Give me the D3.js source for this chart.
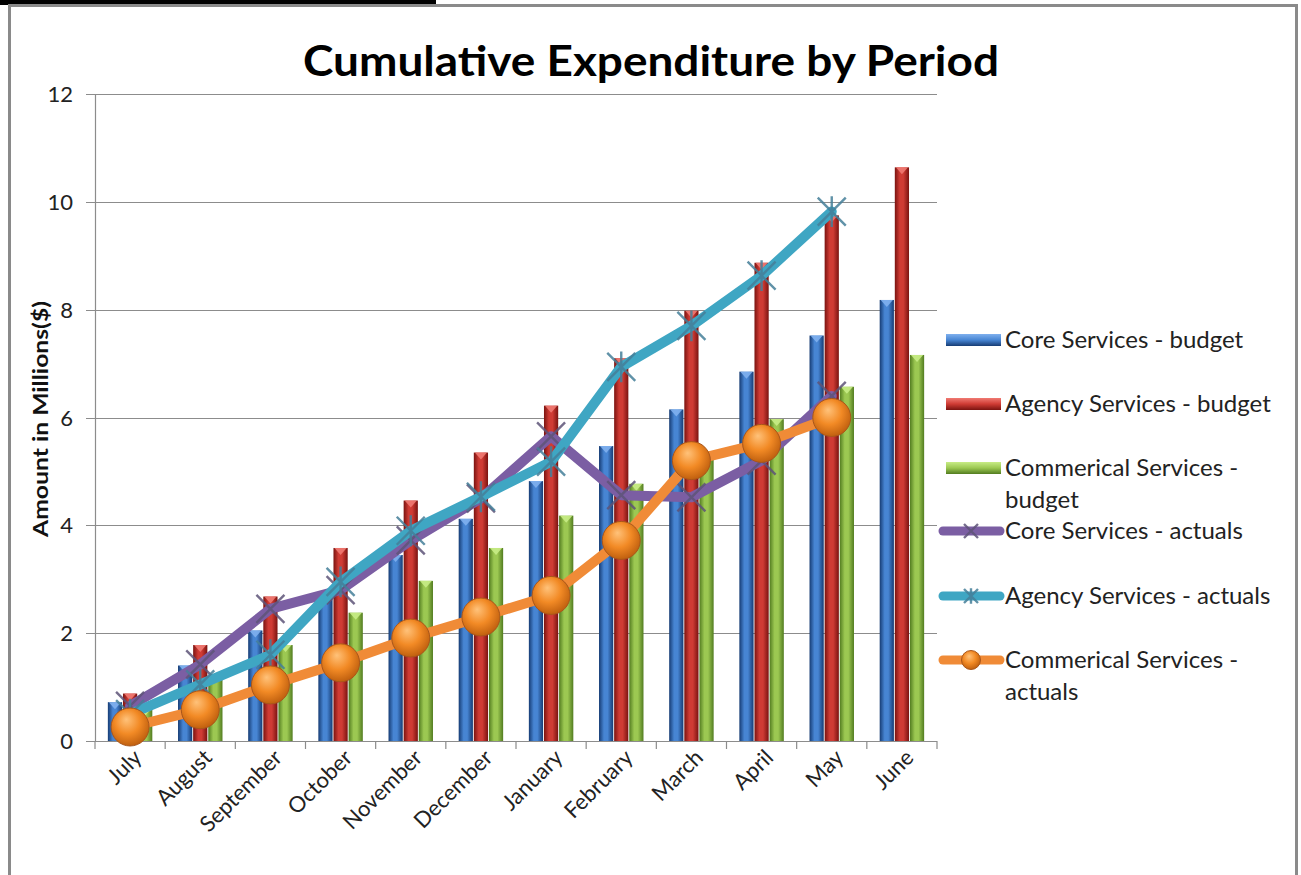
<!DOCTYPE html>
<html>
<head>
<meta charset="utf-8">
<script src="https://cdn.jsdelivr.net/npm/d3@7"></script>
<style>
  body { margin: 0; background: #fff; }
  text { font-family: Lato, "Open Sans", sans-serif; }
</style>
</head>
<body>
<svg id="chart" width="1301" height="875"></svg>
<script>
// data (millions $)
var months = ["July","August","September","October","November","December",
              "January","February","March","April","May","June"];

var coreBudget   = [0.72,1.40,2.05,2.75,3.45,4.12,4.82,5.47,6.15,6.85,7.52,8.18];
var agencyBudget = [0.88,1.78,2.68,3.58,4.46,5.35,6.22,7.10,7.98,8.87,9.75,10.64];
var commBudget   = [0.60,1.20,1.78,2.38,2.97,3.58,4.18,4.77,5.37,5.97,6.57,7.16];

var coreActual   = [0.65,1.42,2.45,2.80,3.72,4.50,5.65,4.56,4.52,5.20,6.40];
var agencyActual = [0.50,1.05,1.60,2.95,3.90,4.53,5.18,6.94,7.70,8.63,9.82];
var commActual   = [0.26,0.58,1.04,1.45,1.91,2.30,2.70,3.72,5.20,5.52,6.00];

var yTicks = [0,2,4,6,8,10,12];

var barSeries = [
  {name: "Core Services - budget", values: coreBudget, dark: "#163c74", mid: "#4785d3", light: "#7fb0ee"},
  {name: "Agency Services - budget", values: agencyBudget, dark: "#7a1310", mid: "#cf3b34", light: "#f07a72"},
  {name: "Commerical Services - budget", values: commBudget, dark: "#527c20", mid: "#9cc852", light: "#c8ec86"}
];
var lineSeries = [
  {name: "Core Services - actuals", values: coreActual, color: "#7b5ea3", marker: "x"},
  {name: "Agency Services - actuals", values: agencyActual, color: "#3fa6c3", marker: "star"},
  {name: "Commerical Services - actuals", values: commActual, color: "#f08b37", marker: "ball"}
];

var svg = d3.select("#chart");
var defs = svg.append("defs");

// frame
svg.append("rect").attr("x", 0).attr("y", 0).attr("width", 436).attr("height", 5).attr("fill", "#000");
svg.append("rect").attr("x", 9.5).attr("y", 5.5).attr("width", 1287).attr("height", 880)
  .attr("fill", "none").attr("stroke", "#8a8a8a").attr("stroke-width", 3);

var x = d3.scaleBand().domain(months).range([95, 937]);
var y = d3.scaleLinear().domain([0, 12]).range([741, 94]);
var x1 = d3.scaleBand().domain(d3.range(3)).range([0, x.bandwidth()])
  .paddingInner(0.06).paddingOuter(0.85);

// gridlines + y ticks
var grid = svg.append("g");
yTicks.forEach(function(t) {
  grid.append("line").attr("x1", 86).attr("x2", 937)
    .attr("y1", Math.round(y(t)) + 0.5).attr("y2", Math.round(y(t)) + 0.5)
    .attr("stroke", "#8c8c8c").attr("stroke-width", 1.2);
  grid.append("text").attr("x", 73).attr("y", y(t) + 8)
    .attr("text-anchor", "end").attr("font-size", 22).attr("fill", "#222").text(t);
});
grid.append("line").attr("x1", 95.5).attr("x2", 95.5).attr("y1", 94).attr("y2", 741)
  .attr("stroke", "#8c8c8c").attr("stroke-width", 1.2);

// x axis ticks at category boundaries
months.concat(["end"]).forEach(function(m, i) {
  var xx = 95 + i * x.step();
  grid.append("line").attr("x1", xx).attr("x2", xx).attr("y1", 741).attr("y2", 749)
    .attr("stroke", "#8c8c8c").attr("stroke-width", 1.2);
});

// bar gradients
barSeries.forEach(function(s, i) {
  var g = defs.append("linearGradient").attr("id", "bar" + i).attr("x1", 0).attr("x2", 1).attr("y1", 0).attr("y2", 0);
  g.append("stop").attr("offset", "0%").attr("stop-color", s.dark);
  g.append("stop").attr("offset", "35%").attr("stop-color", s.mid);
  g.append("stop").attr("offset", "60%").attr("stop-color", s.mid);
  g.append("stop").attr("offset", "100%").attr("stop-color", s.dark);
});

var bars = svg.append("g");
barSeries.forEach(function(s, i) {
  var gs = bars.append("g");
  gs.selectAll("rect").data(s.values).enter().append("rect")
    .attr("x", function(d, j) { return x(months[j]) + x1(i); })
    .attr("y", function(d) { return y(d); })
    .attr("width", x1.bandwidth())
    .attr("height", function(d) { return y(0) - y(d); })
    .attr("fill", "url(#bar" + i + ")");
  gs.selectAll("path").data(s.values).enter().append("path")
    .attr("d", function(d, j) {
      var x0 = x(months[j]) + x1(i), w = x1.bandwidth(), yy = y(d);
      return "M" + (x0 + 1) + "," + yy + "L" + (x0 + w - 1) + "," + yy + "L" + (x0 + w / 2) + "," + (yy + 7) + "Z";
    })
    .attr("fill", s.light).attr("opacity", 0.9);
});

// orange ball gradient
var rg = defs.append("radialGradient").attr("id", "ball").attr("cx", "45%").attr("cy", "40%").attr("r", "60%")
  .attr("fx", "40%").attr("fy", "30%");
rg.append("stop").attr("offset", "0%").attr("stop-color", "#ffc27a");
rg.append("stop").attr("offset", "55%").attr("stop-color", "#f28a25");
rg.append("stop").attr("offset", "100%").attr("stop-color", "#c0600f");

function drawMarker(g, s, cx, cy, scale) {
  if (s.marker === "x") {
    var r = 14 * scale;
    g.append("path").attr("d", "M" + (cx - r) + "," + (cy - r) + "L" + (cx + r) + "," + (cy + r) +
        "M" + (cx - r) + "," + (cy + r) + "L" + (cx + r) + "," + (cy - r))
      .attr("stroke", "#5e5478").attr("stroke-width", 2.4).attr("opacity", 0.85);
  } else if (s.marker === "star") {
    var r2 = 14 * scale;
    g.append("path").attr("d", "M" + (cx - r2) + "," + (cy - r2) + "L" + (cx + r2) + "," + (cy + r2) +
        "M" + (cx - r2) + "," + (cy + r2) + "L" + (cx + r2) + "," + (cy - r2) +
        "M" + cx + "," + (cy - r2 * 1.1) + "L" + cx + "," + (cy + r2 * 1.1))
      .attr("stroke", "#457f99").attr("stroke-width", 2.4).attr("opacity", 0.85);
  } else {
    g.append("circle").attr("cx", cx).attr("cy", cy).attr("r", 19 * scale)
      .attr("fill", "url(#ball)").attr("stroke", "#a9561a").attr("stroke-width", 1);
  }
}

var line = d3.line()
  .x(function(d, j) { return x(months[j]) + x.bandwidth() / 2; })
  .y(function(d) { return y(d); });

var lines = svg.append("g");
lineSeries.forEach(function(s) {
  var g = lines.append("g");
  g.append("path").attr("d", line(s.values)).attr("fill", "none")
    .attr("stroke", s.color).attr("stroke-width", 10).attr("stroke-linejoin", "round").attr("stroke-linecap", "round");
  s.values.forEach(function(v, j) {
    drawMarker(g, s, x(months[j]) + x.bandwidth() / 2, y(v), 1);
  });
});

// x labels
svg.append("g").selectAll("text").data(months).enter().append("text")
  .attr("transform", function(d) {
    return "translate(" + (x(d) + x.bandwidth() / 2 + 13) + ",759) rotate(-45)";
  })
  .attr("text-anchor", "end").attr("font-size", 22).attr("fill", "#222").text(function(d) { return d; });

// y axis title
svg.append("text").attr("transform", "translate(48,419) rotate(-90)")
  .attr("text-anchor", "middle").attr("font-size", 21).attr("font-weight", "bold").attr("fill", "#111")
  .attr("textLength", 236).attr("lengthAdjust", "spacingAndGlyphs")
  .text("Amount in Millions($)");

// title
svg.append("text").attr("x", 651).attr("y", 76).attr("text-anchor", "middle")
  .attr("font-size", 42).attr("font-weight", "bold").attr("fill", "#000")
  .attr("textLength", 696).attr("lengthAdjust", "spacingAndGlyphs")
  .text("Cumulative Expenditure by Period");

// legend
var legend = svg.append("g");
var legRows = [
  {s: barSeries[0], kind: "bar", y: 340, lines: ["Core Services - budget"]},
  {s: barSeries[1], kind: "bar", y: 404, lines: ["Agency Services - budget"]},
  {s: barSeries[2], kind: "bar", y: 468, lines: ["Commerical Services -", "budget"]},
  {s: lineSeries[0], kind: "line", y: 531, lines: ["Core Services - actuals"]},
  {s: lineSeries[1], kind: "line", y: 596, lines: ["Agency Services - actuals"]},
  {s: lineSeries[2], kind: "line", y: 660, lines: ["Commerical Services -", "actuals"]}
];
legRows.forEach(function(r, i) {
  if (r.kind === "bar") {
    var gid = "legbar" + i;
    var lg = defs.append("linearGradient").attr("id", gid).attr("x1", 0).attr("x2", 0).attr("y1", 0).attr("y2", 1);
    lg.append("stop").attr("offset", "0%").attr("stop-color", r.s.light);
    lg.append("stop").attr("offset", "50%").attr("stop-color", r.s.mid);
    lg.append("stop").attr("offset", "100%").attr("stop-color", r.s.dark);
    legend.append("rect").attr("x", 946).attr("y", r.y - 6).attr("width", 55).attr("height", 12)
      .attr("fill", "url(#" + gid + ")");
  } else {
    legend.append("line").attr("x1", 943).attr("x2", 1000).attr("y1", r.y).attr("y2", r.y)
      .attr("stroke", r.s.color).attr("stroke-width", 9).attr("stroke-linecap", "round");
    drawMarker(legend, r.s, 971, r.y, 0.5);
  }
  r.lines.forEach(function(t, k) {
    legend.append("text").attr("x", 1005).attr("y", r.y + 8 + k * 32)
      .attr("font-size", 24).attr("fill", "#222").text(t);
  });
});
</script>
</body>
</html>
